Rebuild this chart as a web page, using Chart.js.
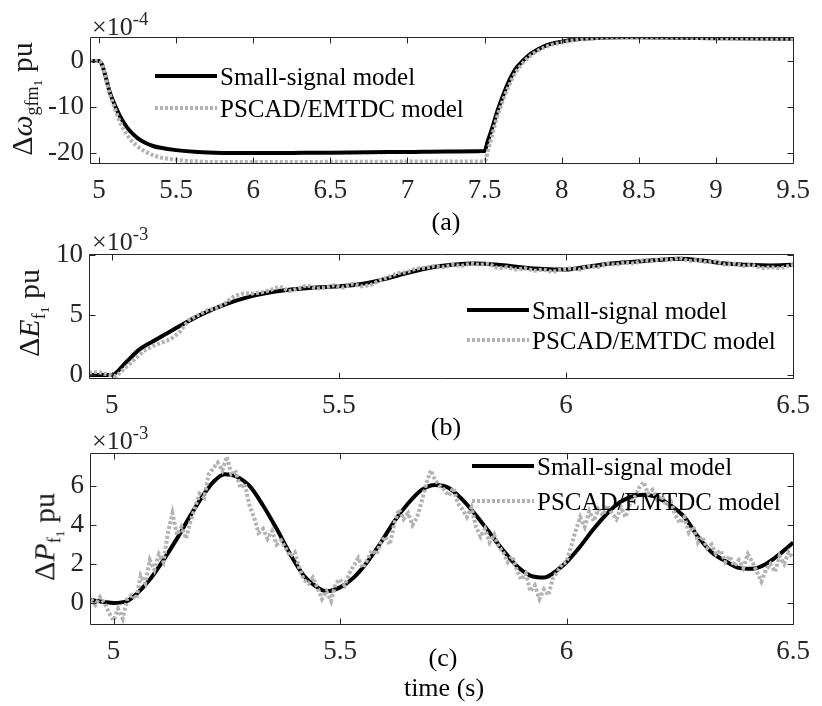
<!DOCTYPE html>
<html><head><meta charset="utf-8">
<script src="https://cdn.jsdelivr.net/npm/chart.js@4.4.1/dist/chart.umd.min.js"></script>
<style>
body{margin:0;background:#fff;}
#wrap{position:relative;width:822px;height:706px;overflow:hidden;font-family:"Liberation Serif","Times New Roman",serif;color:#000;background:#fff;}
canvas{position:absolute;left:0;}
.t{position:absolute;white-space:nowrap;line-height:1;}
.c{transform:translate(-50%,-50%);}
.r{transform:translate(-50%,-50%) rotate(-90deg);}
.ylab{font-size:30px;color:#1a1a1a;}
.ylab i{font-style:italic;}
.ylab .s1{font-size:0.6em;vertical-align:-0.32em;}
.ylab .s2{font-size:0.75em;vertical-align:-0.3em;}
.exp{font-size:26px;color:#262626;}
.exp sup{font-size:0.72em;vertical-align:0.55em;}
.lab{font-size:26px;}
.leg{font-size:25px;}
.samp{position:absolute;width:62px;height:0;}
</style>
</head><body>
<div id="wrap">
<canvas id="cA" width="822" height="210" style="top:0px"></canvas>
<canvas id="cB" width="822" height="215" style="top:215px"></canvas>
<canvas id="cC" width="822" height="286" style="top:420px"></canvas>
</div>
<script>
// ---------- series names ----------
const seriesNames = ["Small-signal model", "PSCAD/EMTDC model"];

// ---------- panel (a): Δω_gfm1 (×10^-4 pu) ----------
const xTicksA = [5, 5.5, 6, 6.5, 7, 7.5, 8, 8.5, 9, 9.5];
const yTicksA = [-20, -10, 0];
const tA_ss = [4.94, 5.0, 5.02, 5.04, 5.07, 5.1, 5.13, 5.16, 5.2, 5.25, 5.3, 5.35, 5.4, 5.5, 5.64, 5.8, 6.0, 6.25, 6.5, 6.75, 7.0, 7.25, 7.5, 7.52, 7.55, 7.58, 7.6, 7.65, 7.7, 7.75, 7.8, 7.9, 8.0, 8.1, 8.2, 8.3, 8.4, 8.5, 8.75, 9.0, 9.25, 9.5];
const wA_ss = [0, 0, -0.8, -3.0, -6.8, -9.4, -11.6, -13.4, -15.2, -16.8, -17.8, -18.5, -18.9, -19.4, -19.8, -20.0, -20.05, -20.0, -19.95, -19.85, -19.8, -19.7, -19.6, -17.5, -14.5, -11.2, -9.3, -5.0, -1.8, 0.1, 1.6, 3.4, 4.2, 4.7, 4.95, 5.1, 5.15, 5.15, 5.05, 4.95, 4.85, 4.8];
const tA_em = [4.94, 5.0, 5.02, 5.04, 5.07, 5.1, 5.13, 5.16, 5.2, 5.25, 5.3, 5.35, 5.4, 5.5, 5.6, 5.7, 5.8, 6.0, 6.5, 7.0, 7.5, 7.52, 7.55, 7.58, 7.6, 7.65, 7.7, 7.75, 7.8, 7.9, 8.0, 8.1, 8.2, 8.3, 8.4, 8.5, 8.75, 9.0, 9.25, 9.5];
const wA_em = [0, 0, -0.8, -3.1, -7.2, -10.0, -12.8, -14.9, -16.9, -18.6, -19.7, -20.5, -21.0, -21.5, -21.8, -21.95, -22.0, -22.0, -21.95, -21.9, -21.85, -19.8, -16.0, -12.3, -10.3, -6.0, -2.6, -0.4, 1.2, 3.1, 4.0, 4.6, 4.95, 5.1, 5.15, 5.15, 5.05, 4.95, 4.85, 4.8];

// ---------- panel (b): ΔE_f1 (×10^-3 pu) ----------
const xTicksB = [5, 5.5, 6, 6.5];
const yTicksB = [0, 5, 10];
const tB_ss = [4.95, 5.0, 5.03, 5.06, 5.1, 5.15, 5.2, 5.25, 5.3, 5.35, 5.4, 5.45, 5.5, 5.55, 5.6, 5.65, 5.7, 5.75, 5.8, 5.85, 5.9, 5.95, 6.0, 6.05, 6.1, 6.15, 6.2, 6.25, 6.3, 6.35, 6.4, 6.45, 6.5];
const eB_ss = [0.0, 0.0, 1.0, 2.1, 3.0, 4.1, 5.1, 5.9, 6.5, 6.9, 7.15, 7.3, 7.4, 7.6, 8.0, 8.5, 8.95, 9.2, 9.3, 9.2, 9.0, 8.85, 8.8, 9.05, 9.3, 9.45, 9.6, 9.7, 9.55, 9.3, 9.2, 9.15, 9.2];
const tB_em = [4.95, 4.97, 4.99, 5.01, 5.03, 5.05, 5.07, 5.09, 5.11, 5.13, 5.15, 5.17, 5.19, 5.21, 5.23, 5.25, 5.27, 5.29, 5.31, 5.33, 5.35, 5.37, 5.39, 5.41, 5.43, 5.45, 5.47, 5.49, 5.51, 5.53, 5.55, 5.57, 5.59, 5.61, 5.63, 5.65, 5.67, 5.69, 5.71, 5.73, 5.75, 5.77, 5.79, 5.81, 5.83, 5.85, 5.87, 5.89, 5.91, 5.93, 5.95, 5.97, 5.99, 6.01, 6.03, 6.05, 6.07, 6.09, 6.11, 6.13, 6.15, 6.17, 6.19, 6.21, 6.23, 6.25, 6.27, 6.29, 6.31, 6.33, 6.35, 6.37, 6.39, 6.41, 6.43, 6.45, 6.47, 6.49, 6.5];
const eB_em = [0.2, 0.25, 0.05, -0.1, 0.6, 1.3, 2.0, 2.4, 2.7, 3.0, 3.6, 4.6, 5.0, 5.4, 5.6, 6.0, 6.6, 6.8, 6.8, 6.9, 7.1, 7.4, 7.0, 7.2, 7.5, 7.2, 7.3, 7.5, 7.3, 7.6, 7.4, 7.5, 7.9, 8.2, 8.5, 8.6, 8.9, 8.95, 9.1, 9.0, 9.2, 9.1, 9.3, 9.2, 9.3, 8.9, 9.0, 8.8, 8.9, 8.7, 8.8, 8.6, 8.8, 8.9, 8.8, 9.1, 9.0, 9.3, 9.2, 9.4, 9.3, 9.6, 9.5, 9.7, 9.6, 9.8, 9.5, 9.6, 9.4, 9.5, 9.2, 9.3, 9.1, 9.2, 8.9, 9.0, 8.9, 9.1, 9.2];

// ---------- panel (c): ΔP_f1 (×10^-3 pu) ----------
const xTicksC = [5, 5.5, 6, 6.5];
const yTicksC = [0, 2, 4, 6];
const tC_ss = [4.95, 4.98, 5.0, 5.03, 5.05, 5.08, 5.11, 5.14, 5.17, 5.2, 5.22, 5.245, 5.27, 5.3, 5.33, 5.36, 5.39, 5.42, 5.45, 5.47, 5.5, 5.53, 5.56, 5.59, 5.62, 5.65, 5.68, 5.71, 5.74, 5.77, 5.8, 5.83, 5.86, 5.89, 5.92, 5.95, 5.98, 6.0, 6.03, 6.06, 6.09, 6.12, 6.15, 6.175, 6.2, 6.23, 6.26, 6.29, 6.32, 6.35, 6.38, 6.41, 6.44, 6.47, 6.5];
const pC_ss = [0.15, 0.05, 0.0, 0.1, 0.45, 1.2, 2.2, 3.3, 4.5, 5.6, 6.2, 6.6, 6.5, 6.0, 5.0, 3.8, 2.5, 1.4, 0.8, 0.6, 0.8, 1.3, 2.1, 3.1, 4.2, 5.1, 5.8, 6.05, 5.9, 5.3, 4.5, 3.6, 2.7, 1.9, 1.4, 1.3, 1.7, 2.1, 2.9, 3.8, 4.6, 5.2, 5.5, 5.55, 5.4, 5.0, 4.4, 3.4, 2.6, 2.15, 1.8, 1.75, 2.0, 2.5, 3.1];
const tC_em = [4.95, 4.96, 4.97, 4.98, 4.99, 5.00, 5.01, 5.02, 5.03, 5.04, 5.05, 5.06, 5.07, 5.08, 5.09, 5.10, 5.11, 5.12, 5.13, 5.14, 5.15, 5.16, 5.17, 5.18, 5.19, 5.20, 5.21, 5.22, 5.23, 5.24, 5.25, 5.26, 5.27, 5.28, 5.29, 5.30, 5.31, 5.32, 5.33, 5.34, 5.35, 5.36, 5.37, 5.38, 5.39, 5.40, 5.41, 5.42, 5.43, 5.44, 5.45, 5.46, 5.47, 5.48, 5.49, 5.50, 5.51, 5.52, 5.53, 5.54, 5.55, 5.56, 5.57, 5.58, 5.59, 5.60, 5.61, 5.62, 5.63, 5.64, 5.65, 5.66, 5.67, 5.68, 5.69, 5.70, 5.71, 5.72, 5.73, 5.74, 5.75, 5.76, 5.77, 5.78, 5.79, 5.80, 5.81, 5.82, 5.83, 5.84, 5.85, 5.86, 5.87, 5.88, 5.89, 5.90, 5.91, 5.92, 5.93, 5.94, 5.95, 5.96, 5.97, 5.98, 5.99, 6.00, 6.01, 6.02, 6.03, 6.04, 6.05, 6.06, 6.07, 6.08, 6.09, 6.10, 6.11, 6.12, 6.13, 6.14, 6.15, 6.16, 6.17, 6.18, 6.19, 6.20, 6.21, 6.22, 6.23, 6.24, 6.25, 6.26, 6.27, 6.28, 6.29, 6.30, 6.31, 6.32, 6.33, 6.34, 6.35, 6.36, 6.37, 6.38, 6.39, 6.40, 6.41, 6.42, 6.43, 6.44, 6.45, 6.46, 6.47, 6.48, 6.49, 6.50];
const pC_em = [0.2, -0.1, 0.3, 0.0, -0.5, -0.9, -0.3, -0.8, 0.2, 0.4, 0.2, 1.4, 1.0, 2.2, 1.7, 2.5, 2.1, 3.6, 4.6, 3.5, 3.9, 3.3, 4.2, 4.9, 5.6, 5.4, 6.6, 6.9, 7.2, 6.8, 7.5, 6.6, 6.7, 5.9, 6.1, 5.0, 4.4, 3.6, 3.8, 3.3, 3.7, 3.0, 3.2, 2.8, 2.4, 2.6, 1.8, 1.2, 1.0, 1.3, 0.8, 0.2, 0.6, 0.1, 1.0, 1.2, 0.9, 1.5, 1.9, 2.3, 1.8, 2.2, 2.7, 2.5, 3.1, 3.4, 3.0, 4.1, 4.8, 4.3, 4.6, 4.0, 4.4, 5.2, 6.1, 6.8, 6.3, 6.0, 5.8, 5.5, 5.9, 5.1, 4.8, 4.4, 4.9, 3.9, 3.4, 3.8, 3.1, 3.5, 2.9, 2.6, 2.1, 2.4, 1.7, 1.2, 1.5, 0.6, 0.9, 0.2, 0.7, 0.4, 1.3, 1.6, 2.0, 2.1, 2.9, 3.7, 4.4, 3.9, 4.7, 4.2, 4.8, 4.5, 5.0, 4.6, 4.3, 4.9, 4.4, 5.1, 5.4, 5.9, 6.2, 5.6, 5.8, 5.3, 5.5, 5.0, 5.2, 4.5, 4.1, 4.4, 3.6, 3.9, 3.1, 3.4, 2.8, 3.0, 2.5, 2.7, 2.1, 2.4, 1.9, 2.2, 1.8, 2.5, 2.1, 1.6, 1.1, 1.7, 2.0, 1.6, 2.4, 2.0, 2.6, 2.3];

// ---------- drawing ----------
const FONT = '"Liberation Serif", "Times New Roman", serif';
const zip = (ts, vs) => ts.map((t, i) => ({ x: t, y: vs[i] }));

const boxPlugin = {
  id: 'matlabBox',
  afterDraw(chart) {
    const { ctx, chartArea: a, scales } = chart;
    const x = scales.x, y = scales.y;
    ctx.save();
    ctx.strokeStyle = '#262626';
    ctx.lineWidth = 1;
    ctx.beginPath();
    const l = Math.round(a.left) + 0.5, r = Math.round(a.right) + 0.5;
    const t = Math.round(a.top) + 0.5, b = Math.round(a.bottom) + 0.5;
    ctx.rect(l, t, r - l, b - t);
    const tl = 6;
    x.ticks.forEach(tk => {
      const px = Math.round(x.getPixelForValue(tk.value)) + 0.5;
      ctx.moveTo(px, b); ctx.lineTo(px, b - tl);
      ctx.moveTo(px, t); ctx.lineTo(px, t + tl);
    });
    y.ticks.forEach(tk => {
      const py = Math.round(y.getPixelForValue(tk.value)) + 0.5;
      ctx.moveTo(l, py); ctx.lineTo(l + tl, py);
      ctx.moveTo(r, py); ctx.lineTo(r - tl, py);
    });
    ctx.stroke();
    ctx.restore();
  }
};

function panel(id, o) {
  const cv = document.getElementById(id);
  return new Chart(cv, {
    type: 'line',
    data: {
      datasets: [
        { label: seriesNames[1], data: zip(o.tE, o.vE), borderColor: '#b3b3b3', borderWidth: 4,
          borderDash: [3, 2], pointRadius: 0, tension: 0, order: 0, clip: 0,
          cubicInterpolationMode: o.smoothE ? 'monotone' : 'default' },
        { label: seriesNames[0], data: zip(o.tS, o.vS), borderColor: '#000000', borderWidth: 4,
          pointRadius: 0, cubicInterpolationMode: 'monotone', order: 1, clip: 0 }
      ]
    },
    options: {
      responsive: false, animation: false, events: [],
      layout: { padding: { left: 0, right: 822 - o.R, top: o.T, bottom: 0 } },
      plugins: { legend: { display: false }, tooltip: { enabled: false } },
      scales: {
        x: {
          type: 'linear', min: o.xmin, max: o.xmax,
          grid: { display: false, drawTicks: false }, border: { display: false },
          ticks: { font: { family: FONT, size: 27 }, color: '#262626', padding: 12,
                   maxRotation: 0, autoSkip: false, callback: v => String(v) },
          afterBuildTicks: s => { s.ticks = o.xt.map(v => ({ value: v })); },
          afterFit: s => { s.height = o.H - o.B; }
        },
        y: {
          type: 'linear', min: o.ymin, max: o.ymax,
          grid: { display: false, drawTicks: false }, border: { display: false },
          ticks: { font: { family: FONT, size: 27 }, color: '#262626', padding: 6,
                   autoSkip: false, callback: v => String(v) },
          afterBuildTicks: s => { s.ticks = o.yt.map(v => ({ value: v })); },
          afterFit: s => { s.width = o.L; }
        }
      }
    },
    plugins: [boxPlugin]
  });
}

panel('cA', { tS: tA_ss, vS: wA_ss, tE: tA_em, vE: wA_em, smoothE: true,
  xmin: 4.942, xmax: 9.5, ymin: -22.2, ymax: 5.2, xt: xTicksA, yt: yTicksA,
  L: 90, R: 802, T: 37, B: 163, H: 210 });
panel('cB', { tS: tB_ss, vS: eB_ss, tE: tB_em, vE: eB_em, smoothE: false,
  xmin: 4.95, xmax: 6.5, ymin: -0.25, ymax: 10.1, xt: xTicksB, yt: yTicksB,
  L: 89, R: 801, T: 39, B: 163, H: 215 });
panel('cC', { tS: tC_ss, vS: pC_ss, tE: tC_em, vE: pC_em, smoothE: false,
  xmin: 4.948, xmax: 6.5, ymin: -1.08, ymax: 7.69, xt: xTicksC, yt: yTicksC,
  L: 90, R: 802, T: 33, B: 204, H: 286 });

// ---------- text overlays ----------
const wrap = document.getElementById('wrap');
function addText(html, cls, x, y, extraStyle) {
  const d = document.createElement('div');
  d.className = 't ' + cls;
  d.innerHTML = html;
  d.style.left = x + 'px';
  d.style.top = y + 'px';
  if (extraStyle) d.style.cssText += extraStyle;
  wrap.appendChild(d);
  return d;
}
// y-axis titles
addText('Δ<i>ω</i><span class="s1">gfm<span class="s2">1</span></span>&nbsp;pu', 'r ylab', 26, 99);
addText('Δ<i>E</i><span class="s1">f<span class="s2">1</span></span>&nbsp;pu', 'r ylab', 33, 313);
addText('Δ<i>P</i><span class="s1">f<span class="s2">1</span></span>&nbsp;pu', 'r ylab', 48, 537);
// exponent labels
addText('×10<sup>-4</sup>', 'exp', 92, 10);
addText('×10<sup>-3</sup>', 'exp', 92, 225);
addText('×10<sup>-3</sup>', 'exp', 92, 424);
// panel labels
addText('(a)', 'c lab', 446, 222);
addText('(b)', 'c lab', 446, 427);
addText('(c)', 'c lab', 443, 658);
addText('time (s)', 'c lab', 444, 688);

// legends
function legend(x, y1, y2) {
  const s1 = document.createElement('div');
  s1.className = 'samp';
  s1.style.cssText += 'left:' + x + 'px;top:' + (y1 - 2) + 'px;border-top:4px solid #000;';
  wrap.appendChild(s1);
  const s2 = document.createElement('div');
  s2.className = 'samp';
  s2.style.cssText += 'left:' + x + 'px;top:' + (y2 - 2) + 'px;height:4px;background:repeating-linear-gradient(90deg,#b3b3b3 0 3px,transparent 3px 5px);';
  wrap.appendChild(s2);
  addText(seriesNames[0], 'leg', x + 65, y1, 'transform:translateY(-50%);');
  addText(seriesNames[1], 'leg', x + 65, y2, 'transform:translateY(-50%);');
}
legend(155, 76, 108);
legend(467, 310, 340);
legend(472, 466, 501);
</script>
</body></html>
